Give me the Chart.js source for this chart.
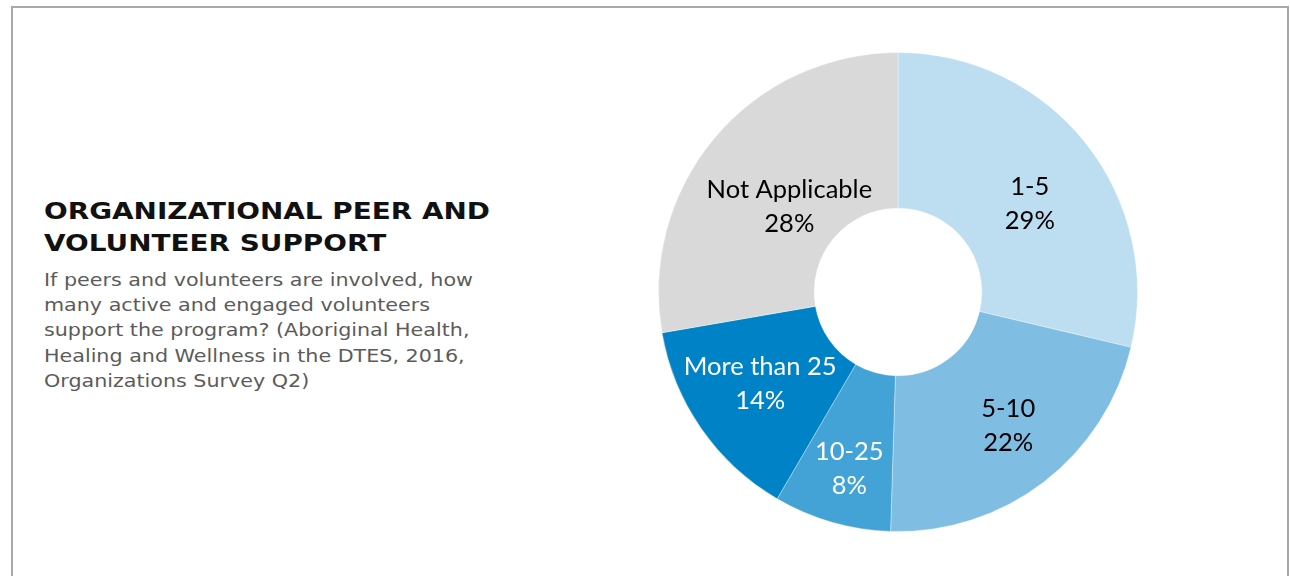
<!DOCTYPE html>
<html>
<head>
<meta charset="utf-8">
<script src="https://cdn.jsdelivr.net/npm/chart.js@4.4.1/dist/chart.umd.min.js"></script>
<style>
  html, body { margin: 0; padding: 0; background: #ffffff; width: 1290px; height: 576px; overflow: hidden; }
  #frame { position: absolute; left: 11px; top: 6px; width: 1278px; height: 640px; box-sizing: border-box; border: 2px solid #a8a8a8; }
  #title { position: absolute; left: 44px; top: 195px; font-family: "DejaVu Sans", sans-serif; font-weight: bold; font-size: 23px; line-height: 32px; color: #111111; white-space: nowrap; transform-origin: 0 0; }
  #body { position: absolute; left: 44px; top: 268px; font-family: "DejaVu Sans", sans-serif; font-size: 17.5px; line-height: 25.2px; color: #5b5b5b; white-space: nowrap; transform-origin: 0 0; }
  #chartBox { position: absolute; left: 648px; top: 42px; width: 500px; height: 500px; }
</style>
</head>
<body>
<div id="frame"></div>
<div id="title"><span class="l">ORGANIZATIONAL PEER AND</span><br><span>VOLUNTEER SUPPORT</span></div>
<div id="body"><span class="l">If peers and volunteers are involved, how</span><br><span>many active and engaged volunteers</span><br><span>support the program? (Aboriginal Health,</span><br><span>Healing and Wellness in the DTES, 2016,</span><br><span>Organizations Survey Q2)</span></div>
<div id="chartBox"><canvas id="c"></canvas></div>
<script>
// ---- data ----
const categories = ["1-5", "5-10", "10-25", "More than 25", "Not Applicable"];
const values = [29, 22, 8, 14, 28];
const percentLabels = ["29%", "22%", "8%", "14%", "28%"];

// ---- styles ----
const sliceColors = ["#BDDEF0", "#7FBEE2", "#43A2D6", "#0082C6", "#D9D9D9"];
const labelColors = ["#000000", "#000000", "#ffffff", "#ffffff", "#000000"];
const labelNudge = [[5, 11], [12, 4], [-4, 20], [-5, -1], [15, 18]];

// stretch text blocks horizontally to the reference widths
function fit(id, target) {
  const el = document.getElementById(id);
  const s = el.querySelector('.l');
  const w = s.getBoundingClientRect().width;
  el.style.transform = 'scaleX(' + (target / w) + ')';
}
fit('title', 446);
fit('body', 429);

const sliceLabels = {
  id: 'sliceLabels',
  afterDatasetsDraw(chart) {
    const ctx = chart.ctx;
    const meta = chart.getDatasetMeta(0);
    const fs = 25.5, gap = 34, capH = 0.72 * fs;
    ctx.save();
    ctx.font = fs + 'px Lato, "Open Sans", sans-serif';
    ctx.textAlign = 'center';
    ctx.textBaseline = 'alphabetic';
    meta.data.forEach((arc, i) => {
      const p = arc.getProps(['x', 'y', 'startAngle', 'endAngle', 'innerRadius', 'outerRadius'], true);
      const mid = (p.startAngle + p.endAngle) / 2;
      const r = (p.innerRadius + p.outerRadius) / 2;
      const cx = p.x + Math.cos(mid) * r + labelNudge[i][0];
      const cy = p.y + Math.sin(mid) * r + labelNudge[i][1];
      ctx.fillStyle = labelColors[i];
      ctx.fillText(categories[i], cx, cy - gap / 2 + capH / 2);
      ctx.fillText(percentLabels[i], cx, cy + gap / 2 + capH / 2);
    });
    ctx.restore();
  }
};

new Chart(document.getElementById('c'), {
  type: 'doughnut',
  data: {
    labels: categories,
    datasets: [{
      data: values,
      backgroundColor: sliceColors,
      borderColor: 'rgba(255,255,255,0.35)',
      borderWidth: 1
    }]
  },
  options: {
    responsive: true,
    maintainAspectRatio: false,
    animation: false,
    cutout: '35%',
    layout: { padding: 10 },
    plugins: { legend: { display: false }, tooltip: { enabled: false } }
  },
  plugins: [sliceLabels]
});
</script>
</body>
</html>
